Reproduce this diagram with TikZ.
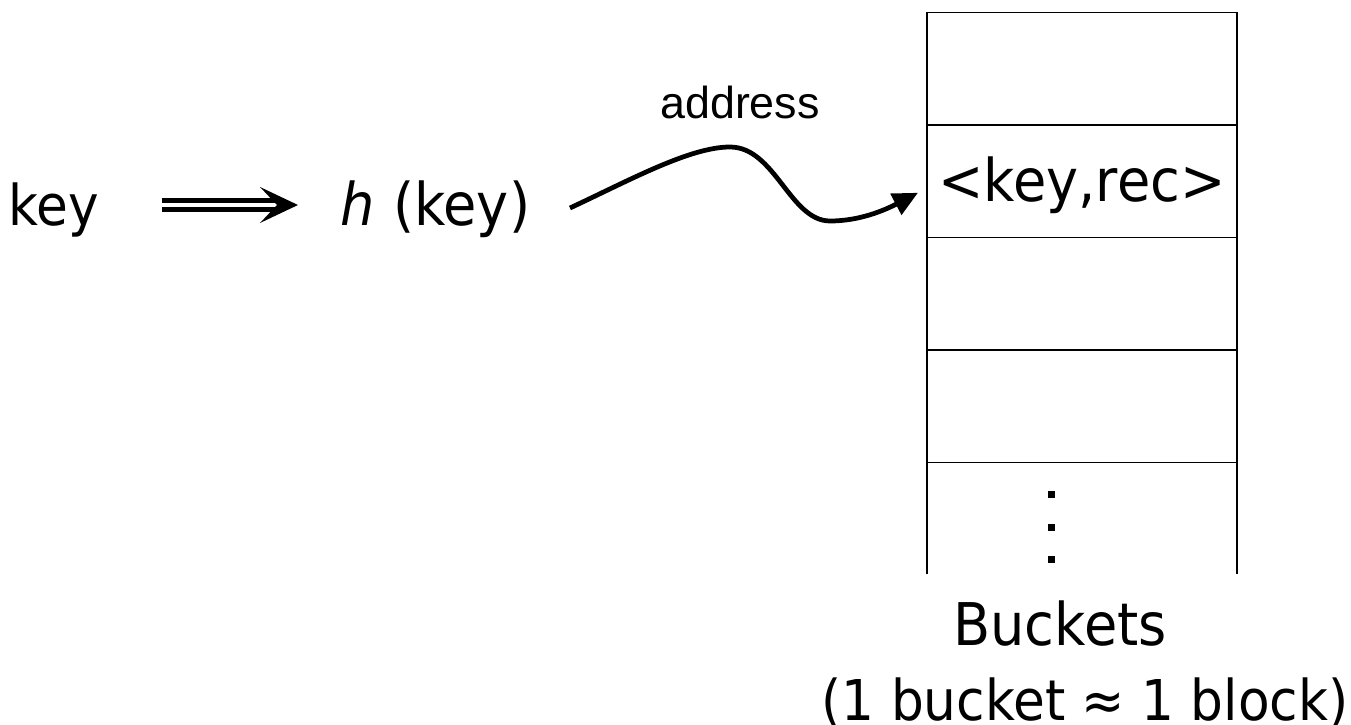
\documentclass[tikz,border=0pt]{standalone}
\usepackage{amsmath,amssymb}
\usepackage{fontspec}
\setmainfont{DejaVu Sans}[FakeStretch=0.92]
\newfontfamily\addrfont{Liberation Sans}
\usepackage{tikz}
\usetikzlibrary{positioning,arrows.meta}

\begin{document}
\begin{tikzpicture}[
    big/.style={font=\fontsize{32}{36}\selectfont, inner sep=0pt, text height=1.1cm, text depth=0.3cm},
    bigger/.style={big, font=\fontsize{33.5}{38}\selectfont},
    cell/.style={draw, line width=1.1pt, minimum width=6.2cm, minimum height=2.25cm, inner sep=0pt, outer sep=0pt, bigger},
]
    \useasboundingbox (0,0) rectangle (27.02,14.48);
    % key and hash value
    \node[big, anchor=base west] (key) at (0.16,9.98) {key};
    \node[bigger, anchor=base west] (hkey) at (6.8,9.98) {\textit{h}\hspace{0.02em} (key)};
    \draw[line width=2.6pt, double, double distance=2.8pt,
        shorten <=1.26cm, shorten >=1.2cm] (key.east) -- (hkey.west);
    \fill ([xshift=-0.84cm]hkey.west) -- ++(-0.76,0.36) -- ++(0.34,-0.36) -- ++(-0.34,-0.36) -- cycle;
    % buckets
    \node[cell] (b1) at (21.64,13.105) {};
    \node[cell, below=0pt of b1] (b2) {<key,rec>};
    \node[cell, below=0pt of b2] (b3) {};
    \node[cell, below=0pt of b3] (b4) {};
    \draw[line width=1.1pt] (b4.south west) -- ++(0,-2.22);
    \draw[line width=1.1pt] (b4.south east) -- ++(0,-2.22);
    \foreach \y in {4.60,3.94,3.30}
        \fill (20.95,\y-0.07) rectangle ++(0.14,0.14);
    % address
    \node[font=\addrfont\fontsize{25.5}{30}\selectfont, anchor=base] (addr) at (14.8,12.1) {address};
    \coordinate (addrstart) at (11.4,10.32);
    \draw[line width=2.7pt, -{Triangle[length=0.5cm, width=0.46cm]}]
        (addrstart) .. controls (12.6,10.88) and (13.8,11.54) .. (14.6,11.54)
        .. controls (15.5,11.54) and (15.8,10.06) .. (16.6,10.06)
        .. controls (17.2,10.06) and (17.7,10.28) .. ([xshift=-0.18cm, yshift=-0.23cm]b2.west);
    % labels
    \node[big, anchor=base] (note) at (21.7,0.08) {(1 bucket ≈ 1 block)};
    \node[bigger, anchor=base] (bucketlbl) at ([xshift=-0.5cm, yshift=1.5cm]note.base) {Buckets};
\end{tikzpicture}
\end{document}
